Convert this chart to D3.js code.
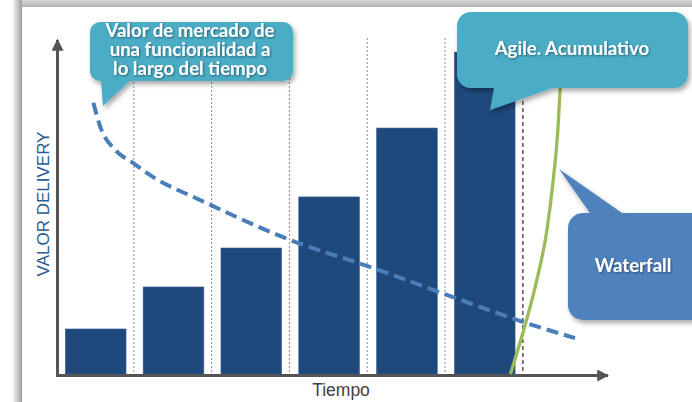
<!DOCTYPE html>
<html>
<head>
<meta charset="utf-8">
<script src="https://cdn.jsdelivr.net/npm/d3@7"></script>
<style>
  html, body { margin: 0; padding: 0; background: #fff; }
  svg { display: block; }
</style>
</head>
<body>
<svg id="chart" width="692" height="402"></svg>
<script>
// Data
const periods = [1, 2, 3, 4, 5, 6];
const agileValues = [13.4, 25.9, 37.5, 52.7, 73.2, 95.8];
const dividers = [1, 2, 3, 4, 5];
const releaseAt = 6;
const marketT = [0.48, 0.57, 0.76, 0.99, 1.25, 1.85, 3.01, 4.08, 5.03, 6.0, 6.67];
const marketV = [80.7, 73.5, 66.7, 62.8, 58.6, 51.8, 39.9, 31.5, 23.5, 15.5, 10.7];
const waterfallT = [5.84, 6.0, 6.18, 6.31, 6.39, 6.45, 6.48, 6.51];
const waterfallV = [0, 12.2, 28.0, 42.9, 57.7, 72.6, 85.4, 99];

const svg = d3.select("#chart");
const defs = svg.append("defs");

// Card background + shadow
const topGrad = defs.append("linearGradient").attr("id", "topGrad").attr("x1", 0).attr("y1", 0).attr("x2", 0).attr("y2", 1);
topGrad.append("stop").attr("offset", 0).attr("stop-color", "#d4d4d4");
topGrad.append("stop").attr("offset", 1).attr("stop-color", "#b4b4b4");
const leftGrad = defs.append("linearGradient").attr("id", "leftGrad").attr("x1", 0).attr("y1", 0).attr("x2", 1).attr("y2", 0);
leftGrad.append("stop").attr("offset", 0).attr("stop-color", "#ffffff");
leftGrad.append("stop").attr("offset", 1).attr("stop-color", "#9c9c9c");

svg.append("rect").attr("x", 12).attr("y", 0).attr("width", 680).attr("height", 7).attr("fill", "url(#topGrad)");
svg.append("rect").attr("x", 12).attr("y", 0).attr("width", 10).attr("height", 402).attr("fill", "url(#leftGrad)");
svg.append("rect").attr("x", 22).attr("y", 7).attr("width", 670).attr("height", 395).attr("fill", "#fff");

const shadow = defs.append("filter").attr("id", "shadow").attr("x", "-20%").attr("y", "-20%").attr("width", "140%").attr("height", "150%");
shadow.append("feDropShadow").attr("dx", 2).attr("dy", 3).attr("stdDeviation", 2.5)
  .attr("flood-color", "#000").attr("flood-opacity", 0.35);
const textShadow = defs.append("filter").attr("id", "textShadow").attr("x", "-10%").attr("y", "-30%").attr("width", "120%").attr("height", "160%");
textShadow.append("feDropShadow").attr("dx", 1).attr("dy", 1).attr("stdDeviation", 0.8)
  .attr("flood-color", "#000").attr("flood-opacity", 0.45);

// Scales
const x = d3.scaleLinear().domain([0, 7.12]).range([56, 610]);
const y = d3.scaleLinear().domain([0, 100]).range([374, 38]);

// Divider lines
svg.selectAll(".divider")
  .data(dividers)
  .enter().append("line")
  .attr("class", "divider")
  .attr("x1", d => x(d)).attr("x2", d => x(d))
  .attr("y1", y(100)).attr("y2", y(0))
  .style("stroke", "#8a8a8a")
  .style("stroke-width", 1)
  .style("stroke-dasharray", "2,2");

svg.append("line")
  .attr("x1", x(releaseAt)).attr("x2", x(releaseAt))
  .attr("y1", y(100)).attr("y2", y(0))
  .style("stroke", "#555")
  .style("stroke-width", 1.5)
  .style("stroke-dasharray", "4,3");

// Bars
svg.selectAll(".bar")
  .data(periods)
  .enter().append("rect")
  .attr("class", "bar")
  .attr("x", d => x(d - 1 + 0.12))
  .attr("width", d => x(d - 0.1) - x(d - 1 + 0.12))
  .attr("y", (d, i) => y(agileValues[i]))
  .attr("height", (d, i) => y(0) - y(agileValues[i]))
  .style("fill", "#1f497d")
  .style("stroke", "#3a6294")
  .style("stroke-width", 0.6);

// Axes with arrows
defs.append("marker")
  .attr("id", "arrow")
  .attr("viewBox", "0 0 10 10")
  .attr("refX", 9).attr("refY", 5)
  .attr("markerWidth", 4).attr("markerHeight", 4)
  .attr("orient", "auto")
  .append("path").attr("d", "M0,0 L10,5 L0,10 z").style("fill", "#555");

svg.append("line")
  .attr("x1", x(0) + 1.5).attr("x2", x(0) + 1.5)
  .attr("y1", y(0) + 1.5).attr("y2", y(100) + 2)
  .style("stroke", "#555").style("stroke-width", 3)
  .attr("marker-end", "url(#arrow)");
svg.append("line")
  .attr("x1", x(0)).attr("x2", x(7.12) - 2)
  .attr("y1", y(0) + 1.5).attr("y2", y(0) + 1.5)
  .style("stroke", "#555").style("stroke-width", 3)
  .attr("marker-end", "url(#arrow)");

// Axis labels
svg.append("text")
  .attr("transform", "translate(49,204) rotate(-90)")
  .attr("text-anchor", "middle")
  .style("font-family", "'Liberation Sans', Arial, sans-serif")
  .style("font-size", "17px")
  .style("fill", "#2b5c91")
  .text("VALOR DELIVERY");

svg.append("text")
  .attr("x", 341).attr("y", 396)
  .attr("text-anchor", "middle")
  .style("font-family", "'Liberation Sans', Arial, sans-serif")
  .style("font-size", "17.5px")
  .style("fill", "#404040")
  .text("Tiempo");

// Market value (dashed) and waterfall (green) curves
const marketLine = d3.line()
  .x((d, i) => x(marketT[i]))
  .y(d => y(d))
  .curve(d3.curveMonotoneX);
svg.append("path")
  .attr("d", marketLine(marketV))
  .style("fill", "none")
  .style("stroke", "#4a7ebb")
  .style("stroke-width", 4)
  .style("stroke-dasharray", "12,6");

const waterfallLine = d3.line()
  .x((d, i) => x(waterfallT[i]))
  .y(d => y(d))
  .curve(d3.curveMonotoneX);
svg.append("path")
  .attr("d", waterfallLine(waterfallV))
  .style("fill", "none")
  .style("stroke", "#9bbb59")
  .style("stroke-width", 3.3);

// Callouts
function callout(box, tail, r, color, lines, tx, ty, lh) {
  const [x0, y0, x1, y1] = box;
  const p = d3.path();
  p.moveTo(x0 + r, y0);
  if (tail.side === "top") {
    p.lineTo(tail.a, y0);
    p.lineTo(tail.tx, tail.ty);
    p.lineTo(tail.b, y0);
  }
  p.lineTo(x1 - r, y0);
  p.arcTo(x1, y0, x1, y0 + r, r);
  p.lineTo(x1, y1 - r);
  p.arcTo(x1, y1, x1 - r, y1, r);
  if (tail.side === "bottom") {
    p.lineTo(tail.b, y1);
    p.lineTo(tail.tx, tail.ty);
    p.lineTo(tail.a, y1);
  }
  p.lineTo(x0 + r, y1);
  p.arcTo(x0, y1, x0, y1 - r, r);
  p.lineTo(x0, y0 + r);
  p.arcTo(x0, y0, x0 + r, y0, r);
  p.closePath();
  svg.append("path")
    .attr("d", p.toString())
    .style("fill", color)
    .attr("filter", "url(#shadow)");
  const t = svg.append("text")
    .attr("text-anchor", "middle")
    .attr("filter", "url(#textShadow)")
    .style("font-family", "Lato, 'Open Sans', sans-serif")
    .style("font-weight", "bold")
    .style("font-size", "18.6px")
    .style("fill", "#fff");
  lines.forEach((s, i) => {
    t.append("tspan").attr("x", tx).attr("y", ty + i * lh).text(s);
  });
}

callout([90, 22, 293, 81], { side: "bottom", a: 101, b: 130, tx: 103, ty: 106 }, 10, "#4bacc6",
  ["Valor de mercado de", "una funcionalidad a", "lo largo del tiempo"], 190, 37, 19);
callout([457, 12, 688, 88], { side: "bottom", a: 494, b: 553, tx: 490, ty: 110 }, 14, "#4bacc6",
  ["Agile. Acumulativo"], 572, 55, 19);
callout([568, 213, 712, 320], { side: "top", a: 590, b: 622, tx: 559, ty: 169 }, 15, "#4f81bd",
  ["Waterfall"], 633, 272, 19);
</script>
</body>
</html>
